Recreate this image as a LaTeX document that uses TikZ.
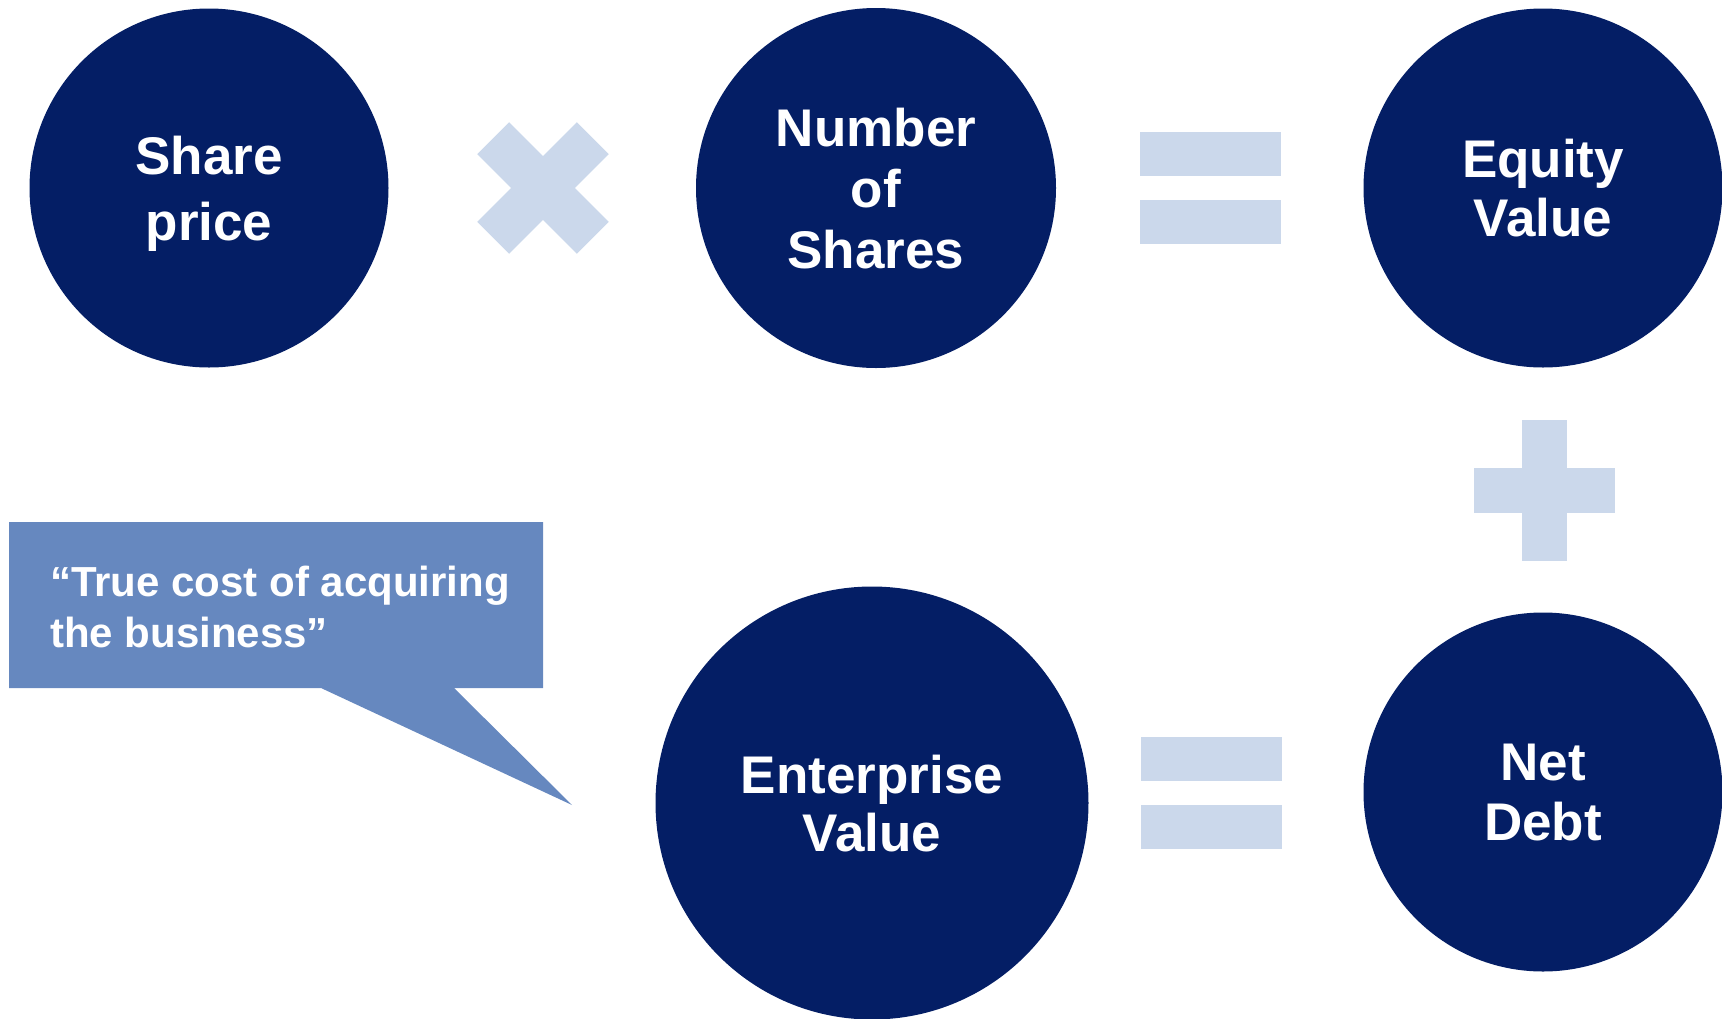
\documentclass[tikz,border=0pt]{standalone}
\usepackage{fontspec}
\setmainfont{Liberation Sans}
\usepackage{xcolor}
\usetikzlibrary{positioning}

\definecolor{navy}{RGB}{4,30,101}
\definecolor{paleblue}{RGB}{203,216,235}
\definecolor{quoteblue}{RGB}{102,136,191}

\begin{document}
\begin{tikzpicture}[
  x=1pt, y=-1pt,
  disc/.style={circle, fill=navy, inner sep=0pt, minimum size=#1, text=white,
               align=center, text depth=0pt},
  leading/.style={font=\bfseries\fontsize{53}{#1}\selectfont},
  bar/.style={fill=paleblue, inner sep=0pt, minimum width=141pt, minimum height=44pt},
  vbar/.style={fill=paleblue, inner sep=0pt, minimum width=45pt, minimum height=141pt},
]
\useasboundingbox (0,0) rectangle (1722,1018);
\clip (0,0) rectangle (1722,1018);

%% ===== TOP ROW: PRICE x SHARES = EQUITY =====
\node[disc=359pt, leading=66pt] (price)  at (209,188)  {Share\\price};
\node[disc=360pt, leading=61pt] (shares) at (876,188)  {Number\\of\\Shares};
\node[disc=359pt, leading=59pt] (equity) at (1543,188) {Equity\\Value};

\node[bar, minimum height=45pt, rotate=45]  (times1) at (543,188) {};
\node[bar, minimum height=45pt, rotate=-45] (times2) at (543,188) {};

\node[bar] (eqtop1) at (1210.5,154) {};
\node[bar, below=24pt of eqtop1] (eqtop2) {};

%% ===== PLUS NET DEBT =====
\node[vbar] (plusv) at (1544.5,490.5) {};
\node[bar, minimum height=45pt] (plush) at (plusv.center) {};

%% ===== BOTTOM ROW: EV = EQUITY + DEBT =====
\node[disc=433pt, leading=58pt] (ev)   at (872,803)  {Enterprise\\Value};
\node[disc=359pt, leading=60pt] (debt) at (1543,792) {Net\\Debt};

\node[bar] (eqbot1) at (1211.5,759) {};
\node[bar, below=24pt of eqbot1] (eqbot2) {};

%% ===== CALLOUT =====
\fill[quoteblue] (9,522) -- (543,522) -- (543,688) -- (454,688)
  -- (572,805) -- (321,688) -- (9,688) -- cycle;
\node[anchor=north west, align=left, inner sep=0pt, text=white,
      font=\bfseries\fontsize{42}{51}\selectfont] (quote) at (50,565.5)
    {``True cost of acquiring\\the business''};

\end{tikzpicture}
\end{document}
